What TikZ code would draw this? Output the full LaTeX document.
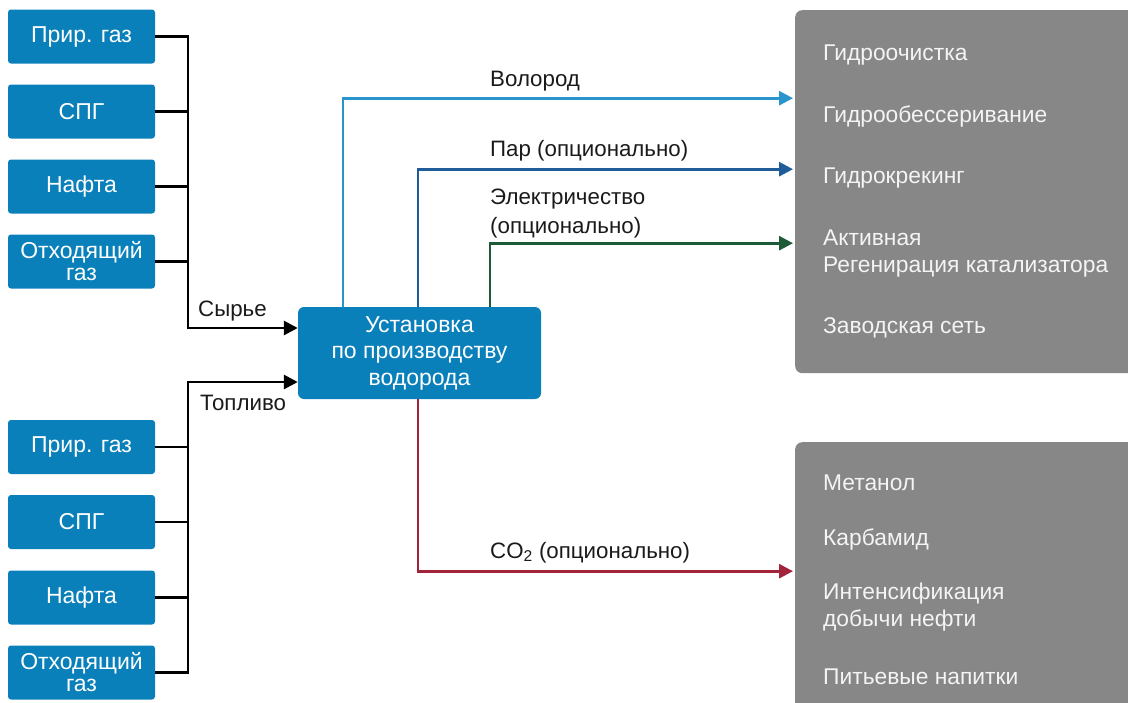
\documentclass[tikz,border=0pt]{standalone}
\usepackage{fontspec}
\setmainfont{Liberation Sans}
\usetikzlibrary{arrows.meta}
\definecolor{boxblue}{HTML}{0A80BA}
\definecolor{panelgray}{HTML}{878787}
\definecolor{hblue}{HTML}{2A94CC}
\definecolor{sblue}{HTML}{1F5C99}
\definecolor{egreen}{HTML}{1D5A37}
\definecolor{cred}{HTML}{A3233A}
\definecolor{labtext}{HTML}{1A1A1A}
\definecolor{paneltext}{HTML}{F4F4F4}
\begin{document}
\begin{tikzpicture}[x=1pt,y=-1pt,
  src/.style={fill=boxblue, rounded corners=3pt, minimum width=147pt, minimum height=54pt,
    text=white, align=center, inner sep=0pt, font=\fontsize{23}{22}\selectfont},
  mainbox/.style={fill=boxblue, rounded corners=6pt, minimum width=243pt, minimum height=92pt,
    text=white, align=center, inner sep=0pt, font=\fontsize{23}{26.5}\selectfont},
  panel/.style={fill=panelgray, rounded corners=7pt, inner sep=0pt, anchor=north west},
  ptxt/.style={text=paneltext, anchor=west, align=left, inner sep=0pt, font=\fontsize{22.8}{27}\selectfont},
  lab/.style={text=labtext, anchor=base west, align=left, inner sep=0pt, font=\fontsize{22.3}{30}\selectfont},
  blk/.style={draw=black, line width=2.8pt},
  tip/.style={-{Triangle[length=14pt,width=14pt]}},
  flow/.style={line width=2.8pt, tip, shorten >=2pt}
]
\useasboundingbox (0,0) rectangle (1128,702);

% panels (clipped at the picture edge)
\begin{scope}
\clip (0,0) rectangle (1128,702);
\node[panel, minimum width=345pt, minimum height=363pt] (top) at (795,10) {};
\node[panel, minimum width=345pt, minimum height=270pt] (bot) at (795,442) {};
\end{scope}

\node[ptxt] (p1) at (823,55) {Гидроочистка};
\node[ptxt] (p2) at (823,117) {Гидрообессеривание};
\node[ptxt] (p3) at (823,178) {Гидрокрекинг};
\node[ptxt] (p4) at (823,254) {Активная\\Регенирация катализатора};
\node[ptxt] (p5) at (823,328) {Заводская сеть};

\node[ptxt] (q1) at (823,483) {Метанол};
\node[ptxt] (q2) at (823,539) {Карбамид};
\node[ptxt] (q3) at (823,607) {Интенсификация\\добычи нефти};
\node[ptxt] (q4) at (823,677) {Питьевые напитки};

% sources
\node[src] (a1) at (81.5,36.5) {Прир. газ};
\node[src] (a2) at (81.5,111.5) {СПГ};
\node[src] (a3) at (81.5,186.5) {Нафта};
\node[src] (a4) at (81.5,261.5) {Отходящий\\газ};

\node[src] (b1) at (81.5,447) {Прир. газ};
\node[src] (b2) at (81.5,522) {СПГ};
\node[src] (b3) at (81.5,597.5) {Нафта};
\node[src] (b4) at (81.5,672.5) {Отходящий\\газ};

% main unit
\node[mainbox] (main) at (419.5,353) {Установка\\по производству\\водорода};

% buses
\coordinate (busA) at (188,328);
\coordinate (busB) at (188,382);
\draw[blk, tip] (a1.east) -| (busA) -- ([yshift=25pt]main.west);
\draw[blk] (a2.east) -- (a2.east -| busA);
\draw[blk] (a3.east) -- (a3.east -| busA);
\draw[blk] (a4.east) -- (a4.east -| busA);

\draw[blk, tip] (b4.east) -| (busB) -- ([yshift=-29pt]main.west);
\draw[blk] (b1.east) -- (b1.east -| busB);
\draw[blk] (b2.east) -- (b2.east -| busB);
\draw[blk] (b3.east) -- (b3.east -| busB);

\node[lab] (syr) at (198,316) {Сырье};
\node[lab] (top2) at (200,410) {Топливо};

% outputs
\draw[flow, hblue] ([xshift=-76.5pt]main.north) |- ([yshift=93.5pt]top.west);
\draw[flow, sblue] ([xshift=-1.5pt]main.north) |- ([yshift=22.5pt]top.west);
\draw[flow, egreen] ([xshift=70.5pt]main.north) |- ([yshift=-51.5pt]top.west);
\draw[flow, cred] ([xshift=-1.5pt]main.south) |- ([yshift=6pt]bot.west);

\node[lab] (lh) at (490,86) {Волород};
\node[lab] (ls) at (490,156) {Пар (опционально)};
\node[lab] (le1) at (490,204) {Электричество};
\node[lab] (le2) at (490,233) {(опционально)};
\node[lab] (lc) at (490,558) {CO\textsubscript{2} (опционально)};
\end{tikzpicture}
\end{document}
